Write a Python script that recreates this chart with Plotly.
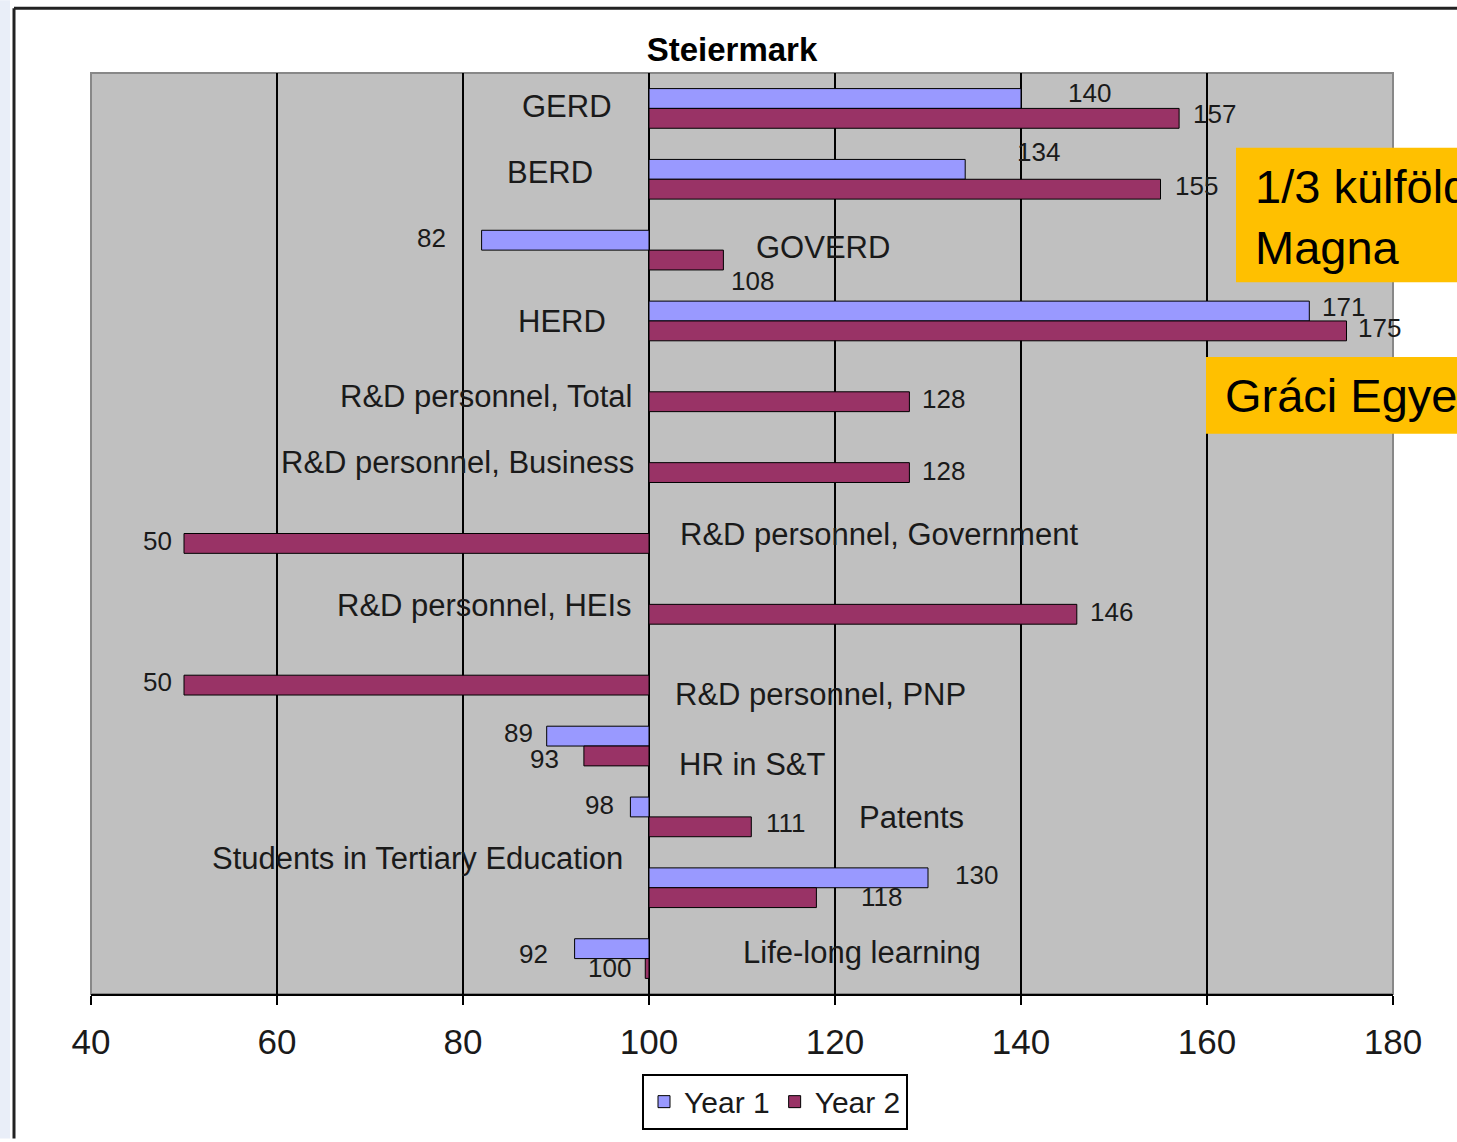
import plotly.graph_objects as go

# ---------------- data ----------------
categories = ["GERD", "BERD", "GOVERD", "HERD",
              "R&D personnel, Total", "R&D personnel, Business",
              "R&D personnel, Government", "R&D personnel, HEIs",
              "R&D personnel, PNP", "HR in S&T", "Patents",
              "Students in Tertiary Education", "Life-long learning"]
year1 = [140, 134, 82, 171, None, None, None, None, None, 89, 98, 130, 92]
year2 = [157, 155, 108, 175, 128, 128, 50, 146, 50, 93, 111, 118, 99.6]
x_ticks = [40, 60, 80, 100, 120, 140, 160, 180]
series_names = ["Year 1", "Year 2"]
base_value = 100

# ---------------- styling / label placement ----------------
FONT = "Arial, Liberation Sans, sans-serif"
C1, C2 = "#9999FF", "#993366"
W, H = 1457, 1142
L, R, T, B = 91, 64, 73, 145
PW, PH = W - L - R, H - T - B

# category label placement (value-axis position, anchor, vertical px offset)
cat_label_x = [96.2, 94.2, 111.3, 95.6, 98.4, 98.6, 103.1, 98.4, 102.6, 103.0, 122.4, 97.4, 109.9]
cat_label_anchor = ["right", "right", "left", "right", "right", "right", "left",
                    "right", "left", "left", "left", "right", "left"]
cat_label_dy = [-1.5, -6.5, -2.5, 0.5, 4.5, -0.5, 0.5, 1.5, 19.5, 18.5, 0.5, -29.5, -6.5]

# value label offsets from bar end (dx px, dy px downward from bar centre)
v1_off = [(68, -5), (73, -17), (-50, -2), (34, -4), None, None, None, None, None,
          (-28, -3), (-31, -2), (48, -3), (-41, 5)]
v2_off = [(35, -3), (36, -2), (29, 22), (33, -2), (34, -2), (34, -1), (-27, -2),
          (35, -1), (-27, -2), (-39, 4), (35, -3), (65, 0), (-36, 0)]

fig = go.Figure()
for name, vals, col in [(series_names[0], year1, C1), (series_names[1], year2, C2)]:
    fig.add_trace(go.Bar(
        name=name, orientation="h", y=categories,
        x=[None if v is None else v - base_value for v in vals],
        base=[base_value] * len(vals),
        marker=dict(color=col, line=dict(color="black", width=1)),
        hoverinfo="skip",
    ))

ann = []
# category labels
for c, lx, anc, dy in zip(categories, cat_label_x, cat_label_anchor, cat_label_dy):
    ann.append(dict(x=lx, y=c, xref="x", yref="y", text=c, showarrow=False,
                    xanchor=anc, yanchor="middle", yshift=-dy,
                    font=dict(family=FONT, size=31, color="#1a1a1a")))
# value labels
for vals, offs, bar_dy in [(year1, v1_off, -10), (year2, v2_off, 9)]:
    for c, v, o in zip(categories, vals, offs):
        if v is None or o is None:
            continue
        ann.append(dict(x=v, y=c, xref="x", yref="y", text=f"{v:.0f}",
                        showarrow=False, xanchor="center", yanchor="middle",
                        xshift=o[0], yshift=-(bar_dy + o[1]),
                        font=dict(family=FONT, size=26, color="#1a1a1a")))

def px2x(px):
    return (px - L) / PW

def py2y(py):
    return (H - B - py) / PH

# yellow boxes text (cut by the right edge, as in the source slide)
ann.append(dict(xref="paper", yref="paper", x=px2x(1253), y=py2y(158), xanchor="left",
                yanchor="top", showarrow=False, align="left", width=W - 1253 - 2,
                text="1/3 külföldi<br>Magna",
                font=dict(family=FONT, size=47, color="black")))
ann.append(dict(xref="paper", yref="paper", x=px2x(1223), y=py2y(368), xanchor="left",
                yanchor="top", showarrow=False, align="left", width=W - 1223 - 2,
                text="Gráci Egyetem",
                font=dict(family=FONT, size=47, color="black")))

shapes = [
    # left slide strip
    dict(type="rect", xref="paper", yref="paper", x0=px2x(0), x1=px2x(10),
         y0=py2y(H), y1=py2y(0), fillcolor="#E9EEF8", line=dict(width=0), layer="below"),
    # outer frame
    dict(type="line", xref="paper", yref="paper", x0=px2x(14), x1=px2x(14),
         y0=py2y(H), y1=py2y(8), line=dict(color="#222", width=3)),
    dict(type="line", xref="paper", yref="paper", x0=px2x(14), x1=px2x(W),
         y0=py2y(8), y1=py2y(8), line=dict(color="#222", width=3)),
    # plot border
    dict(type="rect", xref="paper", yref="paper", x0=0, x1=1, y0=0, y1=1,
         line=dict(color="#888", width=2), layer="below"),
    # yellow boxes
    dict(type="rect", xref="paper", yref="paper", x0=px2x(1236), x1=px2x(W),
         y0=py2y(283), y1=py2y(148), fillcolor="#FFC000", line=dict(width=0)),
    dict(type="rect", xref="paper", yref="paper", x0=px2x(1206), x1=px2x(W),
         y0=py2y(435), y1=py2y(358), fillcolor="#FFC000", line=dict(width=0)),
]

fig.update_layout(
    width=W, height=H,
    margin=dict(l=L, r=R, t=T, b=B, pad=0),
    paper_bgcolor="white", plot_bgcolor="#C0C0C0",
    barmode="group", bargap=0.44, bargroupgap=0,
    title=dict(text="<b>Steiermark</b>", x=732 / W, xanchor="center",
               y=1 - 49 / H, yanchor="middle", yref="container",
               font=dict(family=FONT, size=33, color="black")),
    xaxis=dict(range=[40, 180], tickvals=x_ticks, ticktext=[str(t) for t in x_ticks],
               showgrid=True, gridcolor="black", gridwidth=2,
               showline=True, linecolor="black", linewidth=2,
               ticks="outside", ticklen=9, tickwidth=2, tickcolor="black",
               ticklabelstandoff=7,
               tickfont=dict(family=FONT, size=35, color="#1a1a1a"),
               zeroline=False, fixedrange=True),
    yaxis=dict(type="category", autorange="reversed", showticklabels=False,
               showgrid=False, zeroline=False, showline=False, fixedrange=True),
    legend=dict(orientation="h", x=px2x(775), y=py2y(1105), xanchor="center",
                yanchor="middle", bgcolor="white", bordercolor="black", borderwidth=2,
                font=dict(family=FONT, size=30, color="#1a1a1a"),
                itemwidth=30, traceorder="normal"),
    annotations=ann, shapes=shapes,
)

fig.write_html("out.html", config={"displayModeBar": False},
               post_script="document.body.style.margin='0';document.body.style.overflow='hidden';")
